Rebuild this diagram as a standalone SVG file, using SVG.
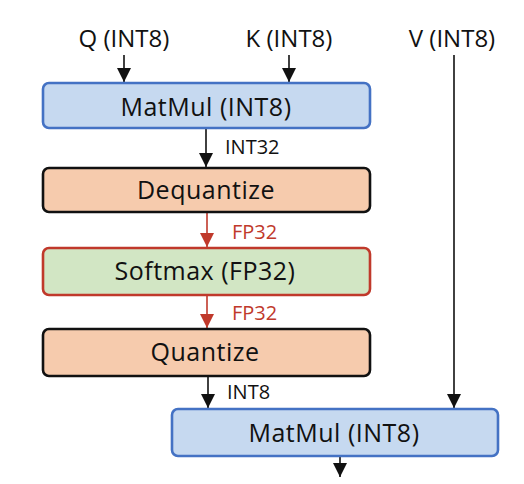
<svg xmlns="http://www.w3.org/2000/svg" width="524" height="484" viewBox="0 0 524 484">
<style>
text{font-family:"Open Sans","Liberation Sans",sans-serif;fill:#111}
.big{font-size:24px;text-anchor:middle}
.box{font-size:25px;letter-spacing:0.5px}
.lbl{font-size:20px}
.red{fill:#c0392b}
.blue{fill:#c6d9f0;stroke:#4472c4;stroke-width:2.6}
.orange{fill:#f6cbad;stroke:#111;stroke-width:2.6}
.green{fill:#d2e6c4;stroke:#c0392b;stroke-width:2.6}
.k{stroke:#111;stroke-width:1.6;fill:none}
.r{stroke:#c0392b;stroke-width:1.6;fill:none}
</style>
<defs>
<marker id="ak" viewBox="0 0 14 16" refX="14" refY="8" markerWidth="14" markerHeight="16" markerUnits="userSpaceOnUse" orient="auto"><path d="M0,1 L14,8 L0,15 Z" fill="#111"/></marker>
<marker id="ar" viewBox="0 0 14 16" refX="14" refY="8" markerWidth="14" markerHeight="16" markerUnits="userSpaceOnUse" orient="auto"><path d="M0,1 L14,8 L0,15 Z" fill="#c0392b"/></marker>
</defs>
<rect width="524" height="484" fill="#fff"/>
<g id="inputs">
<text class="big" x="124" y="47">Q (INT8)</text>
<text class="big" x="289" y="47">K (INT8)</text>
<text class="big" x="452" y="47">V (INT8)</text>
</g>
<g id="connectors">
<line class="k" x1="124" y1="55" x2="124" y2="82" marker-end="url(#ak)"/>
<line class="k" x1="289" y1="55" x2="289" y2="82" marker-end="url(#ak)"/>
<line class="k" x1="454" y1="55" x2="454" y2="408" marker-end="url(#ak)"/>
<line class="k" x1="206" y1="129" x2="206" y2="167" marker-end="url(#ak)"/>
<line class="r" x1="207" y1="213" x2="207" y2="247" marker-end="url(#ar)"/>
<line class="r" x1="207" y1="296" x2="207" y2="328" marker-end="url(#ar)"/>
<line class="k" x1="208" y1="377" x2="208" y2="408" marker-end="url(#ak)"/>
<line class="k" x1="340" y1="457" x2="340" y2="477" marker-end="url(#ak)"/>
<text class="lbl" x="225" y="154">INT32</text>
<text class="lbl red" x="232" y="239">FP32</text>
<text class="lbl red" x="232" y="320">FP32</text>
<text class="lbl" x="227" y="399">INT8</text>
</g>
<g id="matmul1">
<rect class="blue" x="43" y="83" width="327" height="45" rx="6"/>
<text class="big box" x="206" y="116">MatMul (INT8)</text>
</g>
<g id="dequantize">
<rect class="orange" x="43" y="168" width="327" height="44" rx="6"/>
<text class="big box" x="206" y="199">Dequantize</text>
</g>
<g id="softmax">
<rect class="green" x="43" y="248" width="327" height="47" rx="6"/>
<text class="big box" x="205" y="280">Softmax (FP32)</text>
</g>
<g id="quantize">
<rect class="orange" x="43" y="329" width="327" height="47" rx="6"/>
<text class="big box" x="205" y="361">Quantize</text>
</g>
<g id="matmul2">
<rect class="blue" x="172" y="409" width="326" height="47" rx="6"/>
<text class="big box" x="334" y="442">MatMul (INT8)</text>
</g>
</svg>
